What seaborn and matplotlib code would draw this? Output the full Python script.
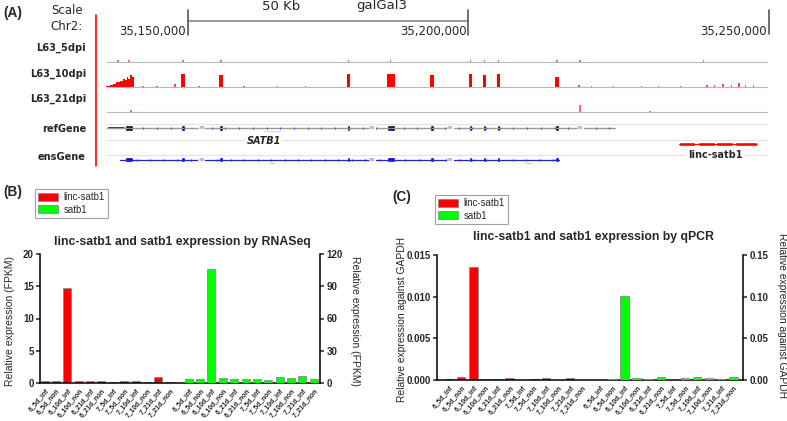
import numpy as np
import seaborn as sns
import matplotlib.pyplot as plt
from matplotlib.patches import Patch

sns.set_style("white")
plt.rcParams['font.family'] = ['Liberation Sans', 'DejaVu Sans']

# ---- data ----
samples = ["6_5d_inf", "6_5d_non", "6_10d_inf", "6_10d_non", "6_21d_inf", "6_21d_non",
           "7_5d_inf", "7_5d_non", "7_10d_inf", "7_10d_non", "7_21d_inf", "7_21d_non"]

rnaseq_linc = [0.3, 0.3, 14.8, 0.3, 0.3, 0.3, 0.15, 0.35, 0.3, 0.1, 1.0, 0.2]
rnaseq_satb1 = [3.4, 4.0, 106, 4.5, 3.5, 3.3, 3.5, 2.5, 5.5, 4.3, 6.8, 3.6]
qpcr_linc = [0.00012, 0.00032, 0.0136, 0.00016, 0.00008, 0.00024,
             0.00006, 0.00007, 0.0002, 0.00002, 0.00024, 0.00006]
qpcr_satb1 = [0.0006, 0.0015, 0.101, 0.002, 0.0018, 0.004,
              0.0006, 0.003, 0.004, 0.002, 0.0017, 0.0032]

# genome browser (kb on chr2)
exon_start = [35148.8, 35155.6, 35178.4, 35185.5, 35193.3, 35200.2, 35202.6, 35205.1, 35215.6]
exon_end = [35149.4, 35156.2, 35179.0, 35187.0, 35193.9, 35200.8, 35203.2, 35205.7, 35216.2]
peak_10dpi = [1.0, 0.95, 1.0, 1.0, 0.9, 1.0, 0.95, 1.0, 0.75]
cluster_kb = [35135.6, 35135.9, 35136.2, 35136.5, 35136.8, 35137.1, 35137.4, 35137.7, 35138.0,
              35138.3, 35138.6, 35138.9, 35139.2, 35139.5, 35139.8, 35140.1]
cluster_h = [0.08, 0.1, 0.12, 0.15, 0.2, 0.25, 0.35, 0.4, 0.5, 0.45, 0.6, 0.55, 0.75, 0.65, 0.9, 0.8]
noise_kb = [35142.0, 35144.5, 35147.7, 35152.0, 35160.0, 35166.0, 35171.0, 35219.8, 35222.0,
            35226.0, 35231.0, 35234.0, 35238.0, 35242.7, 35244.0, 35245.5, 35247.0, 35248.4,
            35249.5, 35251.0]
noise_h = [0.08, 0.06, 0.25, 0.05, 0.05, 0.05, 0.05, 0.12, 0.06, 0.08, 0.05, 0.06, 0.05, 0.15,
           0.18, 0.2, 0.17, 0.3, 0.18, 0.15]
dots_5dpi = [35137.5, 35139.5, 35149.1, 35155.9, 35178.7, 35186.2, 35200.5, 35202.9, 35205.4,
             35215.9, 35220.0, 35242.0]
spikes_21dpi = [35139.8, 35220.0, 35232.5]
spikes_21dpi_h = [0.12, 0.55, 0.1]
linc_start = [35237.7, 35241.1, 35244.3, 35247.6]
linc_end = [35240.5, 35244.1, 35247.4, 35251.6]
break_kb = [35152.5, 35182.9, 35196.8, 35220.0]

W, H = 787, 421


def fx(px):
    return px / W


def fy(py):
    return 1 - py / H


fig = plt.figure(figsize=(W / 100, H / 100), dpi=100)

# ---------------- panel A ----------------
kb0 = 35150 - 188 / 5.6
kb1 = 35150 + 599 / 5.6
ax_a = fig.add_axes([0, fy(170), 1, 170 / H])
ax_a.set_xlim(kb0, kb1)
ax_a.set_ylim(170, 0)
ax_a.axis("off")
t_lo, t_hi = kb0 + 107 / 5.6, kb0 + 767 / 5.6

for yb in [61.5, 87, 112]:
    ax_a.plot([t_lo, t_hi], [yb, yb], color="#b8b8b8", lw=0.8)
for yb in [124, 140, 155]:
    ax_a.plot([t_lo, t_hi], [yb, yb], color="#e2e2e2", lw=0.8)

# coverage tracks
ax_a.bar(cluster_kb, [-h * 13 for h in cluster_h], bottom=87, width=0.34, color="#ff0000", lw=0)
ax_a.bar([(s + e) / 2 for s, e in zip(exon_start, exon_end)], [-h * 13 for h in peak_10dpi],
         bottom=87, width=[e - s for s, e in zip(exon_start, exon_end)], color="#ff0000", lw=0)
ax_a.bar(noise_kb, [-h * 13 for h in noise_h], bottom=87, width=0.25, color="#ff4444", lw=0)
ax_a.bar(dots_5dpi, [-1.2] * len(dots_5dpi), bottom=61.5, width=0.25, color="#ff6666", lw=0)
ax_a.bar(spikes_21dpi, [-h * 13 for h in spikes_21dpi_h], bottom=112, width=0.25,
         color="#ff6666", lw=0)

# refGene
ref_lo, ref_hi = kb0 + 107 / 5.6, kb0 + 615 / 5.6
ax_a.plot([ref_lo, ref_hi], [127.5, 127.5], color="#9a9a9a", lw=1)
ax_a.plot(np.linspace(ref_lo + 4, ref_hi - 1, 36), [127.5] * 36, ls="none", marker="|",
          ms=2, color="#4444ff", mew=0.8)
ax_a.broken_barh([(ref_lo, 35138.75 - ref_lo)], (126, 3), facecolors="black")
ax_a.broken_barh([(35138.75, 1.45)] + [(s, e - s) for s, e in zip(exon_start, exon_end)],
                 (124.5, 6.5), facecolors="black")
# ensGene
ens_lo, ens_hi = kb0 + 120 / 5.6, exon_end[-1]
ax_a.plot([ens_lo, ens_hi], [159.5, 159.5], color="#2222dd", lw=0.9)
ax_a.plot(np.linspace(ens_lo + 3, ens_hi - 1, 32), [159.5] * 32, ls="none", marker="|",
          ms=2, color="#2222dd", mew=0.8)
ax_a.broken_barh([(35138.75, 1.45)] + [(s, e - s) for s, e in zip(exon_start, exon_end)],
                 (157, 5), facecolors="#0000dd")
for b in break_kb:
    ax_a.text(b, 127.5, "ss", fontsize=4.5, style="italic", color="#777777",
              ha="center", va="center", family="DejaVu Sans",
              bbox=dict(fc="white", ec="none", pad=0.2))
for b in break_kb[:3]:
    ax_a.text(b, 159.5, "ss", fontsize=4.5, style="italic", color="#777777",
              ha="center", va="center", family="DejaVu Sans",
              bbox=dict(fc="white", ec="none", pad=0.2))
ax_a.text(35165, 132, "SATB1 transcript", fontsize=1.6, color="#666666", ha="center")
ax_a.text(35165, 163.5, "SATB1", fontsize=1.6, color="#666666", ha="center")
ax_a.text(35211, 163.5, "SATB1", fontsize=1.6, color="#666666", ha="center")
# linc-satb1
ax_a.plot([linc_start[0], linc_end[-1]], [144, 144], color="#ff0000", lw=0.7)
ax_a.broken_barh([(s, e - s) for s, e in zip(linc_start, linc_end)], (142.3, 3.4),
                 facecolors="#ff0000")
ax_a.text((linc_start[0] + linc_end[-1]) / 2 - 0.5, 155, "linc-satb1", fontsize=7,
          weight="bold", ha="center", va="center", family="DejaVu Sans",
          bbox=dict(fc="white", ec="none", pad=1.5))
ax_a.text(35163.5, 141, "SATB1", fontsize=7, weight="bold", style="italic", ha="center",
          va="center", family="DejaVu Sans", bbox=dict(fc="white", ec="none", pad=1.5))

# scale bar
ax_a.plot([35150, 35200], [21, 21], color="#888888", lw=1.2)
ax_a.plot([35150, 35150], [10, 35], color="#555555", lw=1.2)
ax_a.plot([35200, 35200], [10, 35], color="#555555", lw=1.2)
ax_a.plot([kb0 + 769 / 5.6] * 2, [10, 34], color="#555555", lw=1.2)

fig.add_artist(plt.Line2D([fx(96), fx(96)], [fy(15), fy(166)], color="#ff0000", lw=1.2))

ftA = dict(family="DejaVu Sans")
fig.text(fx(3), fy(13), "(A)", fontsize=9.8, weight="bold", va="center")
fig.text(fx(83), fy(11), "Scale", fontsize=8.5, ha="right", va="center", **ftA)
fig.text(fx(83), fy(27), "Chr2:", fontsize=8.5, ha="right", va="center", **ftA)
fig.text(fx(281), fy(6), "50 Kb", fontsize=9.5, ha="center", va="center", **ftA)
fig.text(fx(382), fy(6), "galGal3", fontsize=9.5, ha="center", va="center", **ftA)
fig.text(fx(186), fy(32), "35,150,000", fontsize=8.5, ha="right", va="center", **ftA)
fig.text(fx(467), fy(32), "35,200,000", fontsize=8.5, ha="right", va="center", **ftA)
fig.text(fx(767), fy(32), "35,250,000", fontsize=8.5, ha="right", va="center", **ftA)
for name, yy in [("L63_5dpi", 48), ("L63_10dpi", 74), ("L63_21dpi", 99),
                 ("refGene", 129), ("ensGene", 157)]:
    fig.text(fx(86), fy(yy), name, fontsize=7.1, weight="bold", ha="right", va="center", **ftA)

# ---------------- panels B and C ----------------
red_x = np.arange(12)


def bar_panel(rect, linc, satb1, gap, xlim, ylim_l, ylim_r, ticks_l, ticks_r, fmt_l, fmt_r):
    ax = fig.add_axes(rect)
    ax2 = ax.twinx()
    green_x = np.arange(12) + gap
    sns.barplot(x=red_x, y=linc, native_scale=True, orient="x", color="#ff0000", saturation=1,
                edgecolor="#8a8a8a", linewidth=0.6, width=0.7, errorbar=None, ax=ax)
    sns.barplot(x=green_x, y=satb1, native_scale=True, orient="x", color="#00ff00", saturation=1,
                edgecolor="#8a8a8a", linewidth=0.6, width=0.7, errorbar=None, ax=ax2)
    ax.set_xlim(*xlim)
    ax2.set_xlim(*xlim)
    ax.set_ylim(*ylim_l)
    ax2.set_ylim(*ylim_r)
    ax.set_yticks(ticks_l)
    ax.set_yticklabels([fmt_l.format(t) for t in ticks_l])
    ax2.set_yticks(ticks_r)
    ax2.set_yticklabels([fmt_r.format(t) for t in ticks_r])
    ax.set_xticks(list(red_x) + list(green_x))
    ax.set_xticklabels(samples + samples, rotation=50, ha="right", rotation_mode="anchor",
                       fontsize=4.9, weight="bold")
    ax.set_xlabel("")
    ax.set_ylabel("")
    ax2.set_xlabel("")
    ax2.set_ylabel("")
    for a in (ax, ax2):
        for s in a.spines.values():
            s.set_visible(False)
            s.set_linewidth(1.1)
            s.set_color("black")
        a.patch.set_visible(False)
    ax.spines["left"].set_visible(True)
    ax.spines["bottom"].set_visible(True)
    ax2.spines["right"].set_visible(True)
    ax.tick_params(axis="y", direction="out", length=3, width=1.1, labelsize=7, pad=1.5,
                   left=True)
    ax2.tick_params(axis="y", direction="out", length=3, width=1.1, labelsize=7, pad=1.5,
                    right=True)
    ax.tick_params(axis="x", length=0, pad=3)
    for lab in ax.get_yticklabels() + ax2.get_yticklabels():
        lab.set_fontweight("bold")
    return ax, ax2


bar_panel([fx(40), fy(383), fx(320) - fx(40), (383 - 254) / H],
          rnaseq_linc, rnaseq_satb1, 12.66, (-0.4, 24.2), (0, 20), (0, 120),
          [0, 5, 10, 15, 20], [0, 30, 60, 90, 120], "{:g}", "{:g}")
bar_panel([fx(437), fy(380), fx(743) - fx(437), (380 - 255) / H],
          qpcr_linc, qpcr_satb1, 12.5, (-1.0, 24.3), (0, 0.015), (0, 0.15),
          [0, 0.005, 0.010, 0.015], [0, 0.05, 0.10, 0.15], "{:.3f}", "{:.2f}")

fig.text(fx(3), fy(192), "(B)", fontsize=9.8, weight="bold", va="center")
fig.text(fx(392), fy(197), "(C)", fontsize=9.8, weight="bold", va="center")
fig.text(fx(182), fy(242), "linc-satb1 and satb1 expression by RNASeq", fontsize=8.8,
         weight="bold", ha="center", va="center")
fig.text(fx(593), fy(237), "linc-satb1 and satb1 expression by qPCR", fontsize=8.8,
         weight="bold", ha="center", va="center")
fig.text(fx(10), fy(321), "Relative expression (FPKM)", fontsize=7.5, rotation=90,
         ha="center", va="center")
fig.text(fx(355), fy(321), "Relative expression (FPKM)", fontsize=7.5, rotation=270,
         ha="center", va="center")
fig.text(fx(402), fy(320), "Relative expression against GAPDH", fontsize=7.4, rotation=90,
         ha="center", va="center")
fig.text(fx(782), fy(316), "Relative expression against GAPDH", fontsize=7.4, rotation=270,
         ha="center", va="center")

handles = [Patch(fc="#ff0000", ec="#8a8a8a", lw=0.6, label="linc-satb1"),
           Patch(fc="#00ff00", ec="#8a8a8a", lw=0.6, label="satb1")]
for x0, y0 in [(35, 189), (435, 195)]:
    leg = fig.legend(handles=handles, loc="upper left", bbox_to_anchor=(fx(x0), fy(y0)),
                     fontsize=6.9, frameon=True, fancybox=False, edgecolor="#888888",
                     borderpad=0.35, handlelength=2.0, handleheight=0.9, labelspacing=0.25,
                     handletextpad=0.6, borderaxespad=0)
    leg.get_frame().set_linewidth(0.8)

fig.savefig("out.png", dpi=100)
